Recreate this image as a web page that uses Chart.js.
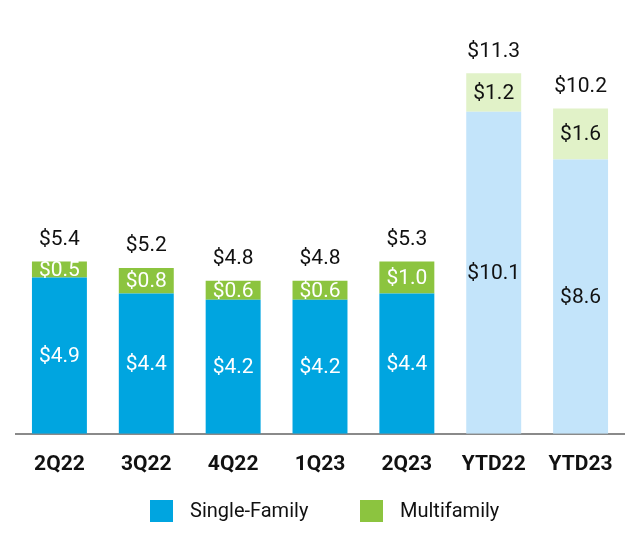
<!DOCTYPE html>
<html>
<head>
<meta charset="utf-8">
<script src="https://cdn.jsdelivr.net/npm/chart.js@4/dist/chart.umd.min.js"></script>
<style>
  body { margin: 0; background: #fff; }
</style>
</head>
<body>
<canvas id="myChart" width="640" height="534"></canvas>
<script>
// Données (milliards $)
var periodes = ["2Q22", "3Q22", "4Q22", "1Q23", "2Q23", "YTD22", "YTD23"];
var singleFamily = [4.9, 4.4, 4.2, 4.2, 4.4, 10.1, 8.6];
var multifamily = [0.5, 0.8, 0.6, 0.6, 1.0, 1.2, 1.6];
var totaux = [5.4, 5.2, 4.8, 4.8, 5.3, 11.3, 10.2];

var police = "Roboto, 'Liberation Sans', sans-serif";

// Couleurs : trimestres en plein, cumuls annuels en clair
var bleu = [], vert = [], texte = [];
for (let i = 0; i < periodes.length; i++) {
    var ytd = periodes[i].indexOf("YTD") === 0;
    bleu.push(ytd ? "#c3e4fa" : "#00a5e0");
    vert.push(ytd ? "#e1f2c8" : "#8cc43f");
    texte.push(ytd ? "#111111" : "#ffffff");
}

// Plugin pour écrire les valeurs dans les barres et les totaux au-dessus
var etiquettes = {
    id: "etiquettes",
    afterDatasetsDraw: function (chart) {
        var ctx = chart.ctx;
        ctx.save();
        ctx.font = "21px " + police;
        ctx.textAlign = "center";
        ctx.textBaseline = "middle";
        chart.data.datasets.forEach(function (ds, d) {
            chart.getDatasetMeta(d).data.forEach(function (bar, i) {
                var milieu = (bar.y + bar.base) / 2;
                ctx.fillStyle = texte[i];
                ctx.fillText("$" + ds.data[i].toFixed(1), bar.x, milieu + 1);
            });
        });
        ctx.fillStyle = "#111111";
        chart.getDatasetMeta(1).data.forEach(function (bar, i) {
            ctx.fillText("$" + totaux[i].toFixed(1), bar.x, bar.y - 22);
        });
        ctx.restore();
    }
};

// Légende dessinée à la main pour respecter les écarts du modèle
var legende = {
    id: "legende",
    afterDraw: function (chart) {
        var ctx = chart.ctx;
        var pos = [150, 360];
        ctx.save();
        ctx.font = "20px " + police;
        ctx.textBaseline = "middle";
        chart.data.datasets.forEach(function (ds, d) {
            ctx.fillStyle = ds.backgroundColor[0];
            ctx.fillRect(pos[d], 500, 23, 22);
            ctx.fillStyle = "#111111";
            ctx.fillText(ds.label, pos[d] + 40, 512);
        });
        ctx.restore();
    }
};

new Chart(document.getElementById('myChart').getContext('2d'), {
    type: 'bar',
    data: {
        labels: periodes,
        datasets: [{
            label: 'Single-Family',
            data: singleFamily,
            backgroundColor: bleu
        }, {
            label: 'Multifamily',
            data: multifamily,
            backgroundColor: vert
        }]
    },
    options: {
        responsive: false,
        animation: false,
        layout: { padding: { left: 16, right: 16, top: 0, bottom: 47 } },
        barPercentage: 0.9,
        categoryPercentage: 0.703,
        plugins: {
            tooltip: { enabled: false },
            legend: { display: false }
        },
        scales: {
            x: {
                stacked: true,
                grid: { display: false },
                border: { color: "#8a8a8a", width: 2 },
                ticks: {
                    color: "#111111",
                    padding: 10,
                    font: { family: police, size: 21, weight: 'bold' }
                }
            },
            y: {
                stacked: true,
                display: false,
                min: 0,
                max: 13.6
            }
        }
    },
    plugins: [etiquettes, legende]
});
</script>
</body>
</html>
